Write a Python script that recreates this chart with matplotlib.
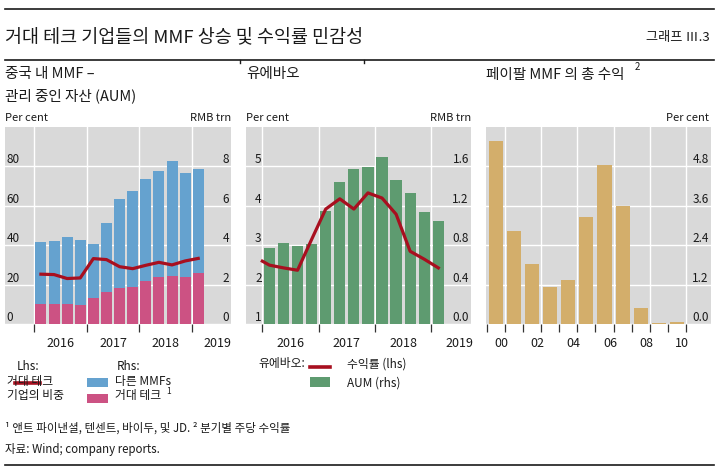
import matplotlib
matplotlib.use('Agg')
import matplotlib.pyplot as plt
from matplotlib.patches import Rectangle
from matplotlib.lines import Line2D
from matplotlib.ticker import FormatStrFormatter

plt.rcParams['font.family'] = ['Noto Sans CJK KR', 'DejaVu Sans']

# ---------------- data ----------------
quarters = ['2016Q1', '2016Q2', '2016Q3', '2016Q4',
            '2017Q1', '2017Q2', '2017Q3', '2017Q4',
            '2018Q1', '2018Q2', '2018Q3', '2018Q4', '2019Q1']
# China MMF AUM (RMB trn)
bigtech_aum = [1.01, 1.03, 1.01, 0.98, 1.34, 1.65, 1.83, 1.88, 2.17, 2.42, 2.44, 2.42, 2.60]
other_aum = [3.16, 3.17, 3.41, 3.31, 2.73, 3.48, 4.51, 4.86, 5.17, 5.33, 5.85, 5.23, 5.28]
# big tech share (per cent)
bigtech_share = [25.4, 25.2, 23.2, 23.5, 33.3, 32.8, 29.2, 28.2, 29.9, 31.4, 30.1, 32.1, 33.4]

# Yu'e Bao
yuebao_aum = [0.772, 0.823, 0.793, 0.817, 1.146, 1.440, 1.570, 1.590, 1.694, 1.462, 1.331, 1.137, 1.044]
yuebao_yield_t = [2016.0, 2016.125, 2016.375, 2016.625, 2016.875, 2017.125, 2017.375,
                  2017.625, 2017.875, 2018.125, 2018.375, 2018.625, 2018.875, 2019.125]
yuebao_yield = [2.60, 2.50, 2.43, 2.37, 3.15, 3.92, 4.18, 3.92, 4.33, 4.20, 3.79, 2.85, 2.65, 2.43]

# PayPal MMF total return
paypal_years = [2000, 2001, 2002, 2003, 2004, 2005, 2006, 2007, 2008, 2009, 2010]
paypal_ret = [5.56, 2.84, 1.83, 1.12, 1.34, 3.26, 4.85, 3.59, 0.49, 0.05, 0.07]
paypal_labels = ['00', '02', '04', '06', '08', '10']

year_ticks = [2016, 2017, 2018, 2019]
year_labels = ['2016', '2017', '2018', '2019']

# ---------------- style ----------------
W, H = 719, 475
BG = '#d9d9d9'
BLUE = '#65a2cf'
PINK = '#cc5283'
RED = '#a80f1f'
GREEN = '#5e9b70'
TAN = '#d3ae6b'
TXT = '#1a1a1a'

fig = plt.figure(figsize=(W / 100, H / 100), dpi=100)


def px_axes(x0, x1, y0, y1):
    return fig.add_axes([x0 / W, 1 - y1 / H, (x1 - x0) / W, (y1 - y0) / H])


def ftext(x, y, s, **kw):
    kw.setdefault('va', 'center')
    kw.setdefault('color', TXT)
    fig.text(x / W, 1 - y / H, s, **kw)


def hline(x0, x1, y, lw=1.2):
    fig.add_artist(Line2D([x0 / W, x1 / W], [1 - y / H, 1 - y / H], color=TXT, lw=lw))


def vline(x, y0, y1, lw=1.0):
    fig.add_artist(Line2D([x / W, x / W], [1 - y0 / H, 1 - y1 / H], color=TXT, lw=lw))


def rect(x0, y0, x1, y1, color):
    fig.add_artist(Rectangle((x0 / W, 1 - y1 / H), (x1 - x0) / W, (y1 - y0) / H,
                             transform=fig.transFigure, color=color, lw=0))


def qpos(q):
    return int(q[:4]) + (int(q[-1]) - 1) / 4 + 0.125


def base_style(ax):
    ax.set_facecolor(BG)
    for s in ax.spines.values():
        s.set_visible(False)
    ax.set_axisbelow(True)


def style_right(ax, pad=-1.5, fmt=None):
    ax.yaxis.tick_right()
    ax.tick_params(axis='y', which='both', length=0, pad=pad, labelsize=8.5, labelcolor=TXT)
    if fmt:
        ax.yaxis.set_major_formatter(FormatStrFormatter(fmt))
    for lab in ax.get_yticklabels():
        lab.set_horizontalalignment('right')
        lab.set_verticalalignment('bottom')


def style_left(ax, pad=-1.0):
    ax.yaxis.tick_left()
    ax.tick_params(axis='y', which='both', length=0, pad=pad, labelsize=8.5, labelcolor=TXT)
    for lab in ax.get_yticklabels():
        lab.set_horizontalalignment('left')
        lab.set_verticalalignment('bottom')


def year_xaxis(ax, ticks, label_pos, labels, xlim):
    ax.set_xlim(*xlim)
    ax.set_xticks(ticks)
    ax.set_xticklabels([''] * len(ticks))
    ax.set_xticks(label_pos, minor=True)
    ax.set_xticklabels(labels, minor=True)
    ax.tick_params(axis='x', which='major', length=5.8, width=0.9, color='#333333', direction='out')
    ax.tick_params(axis='x', which='minor', length=0, pad=9, labelsize=9, labelcolor=TXT)


qx = [qpos(q) for q in quarters]
mid_years = [y + 0.5 for y in year_ticks]

# ---------------- panel 1 ----------------
ax1 = px_axes(5, 231, 127, 324.3)
base_style(ax1)
ax1b = ax1.twinx()
for s in ax1b.spines.values():
    s.set_visible(False)
ax1.bar(qx, bigtech_aum, width=0.21, color=PINK, lw=0, zorder=2)
ax1.bar(qx, other_aum, width=0.21, bottom=bigtech_aum, color=BLUE, lw=0, zorder=2)
ax1b.plot(qx, bigtech_share, color=RED, lw=2.3, solid_joinstyle='round', zorder=3)
ax1.set_ylim(0, 10)
ax1.set_yticks([0, 2, 4, 6, 8])
ax1b.set_ylim(0, 100)
ax1b.set_yticks([0, 20, 40, 60, 80])
ax1.grid(True, which='major', color='white', lw=1.0)
year_xaxis(ax1, year_ticks, mid_years, year_labels, (2015.44, 2019.75))
style_right(ax1)
style_left(ax1b, pad=-1.0)

# ---------------- panel 2 ----------------
ax2 = px_axes(246, 471, 127, 324.3)
base_style(ax2)
ax2b = ax2.twinx()
for s in ax2b.spines.values():
    s.set_visible(False)
ax2.bar(qx, yuebao_aum, width=0.2, color=GREEN, lw=0, zorder=2)
ax2b.plot(yuebao_yield_t, yuebao_yield, color=RED, lw=2.3, solid_joinstyle='round', zorder=3)
ax2.set_ylim(0, 2.0)
ax2.set_yticks([0, 0.4, 0.8, 1.2, 1.6])
ax2b.set_ylim(1, 6)
ax2b.set_yticks([1, 2, 3, 4, 5])
ax2.grid(True, which='major', color='white', lw=1.0)
year_xaxis(ax2, year_ticks, mid_years, year_labels, (2015.71, 2019.705))
style_right(ax2, fmt='%.1f')
style_left(ax2b, pad=-6.5)

# ---------------- panel 3 ----------------
ax3 = px_axes(486, 711, 127, 324.3)
base_style(ax3)
ax3.bar([y + 0.5 for y in paypal_years], paypal_ret, width=0.78, color=TAN, lw=0, zorder=2)
ax3.set_ylim(0, 6)
ax3.set_yticks([0, 1.2, 2.4, 3.6, 4.8])
ax3.yaxis.grid(True, color='white', lw=1.0)
all_years = paypal_years + [paypal_years[-1] + 1]
for yr in all_years[1::2]:
    ax3.axvline(yr, color='white', lw=1.0, zorder=0.5)
year_xaxis(ax3, all_years, [y + 0.8 for y in paypal_years[::2]], paypal_labels, (1999.96, 2012.38))
style_right(ax3, fmt='%.1f')

# ---------------- titles & texts ----------------
hline(5, 714, 9)
hline(5, 714, 60)
vline(240, 60, 63)
vline(364, 60, 63)
ftext(5, 37, '거대 테크 기업들의 MMF 상승 및 수익률 민감성', fontsize=13.3)
ftext(710, 38, '그래프 Ⅲ.3', fontsize=9.5, ha='right')

ftext(5, 74, '중국 내 MMF –', fontsize=10.5)
ftext(5, 96, '관리 중인 자산 (AUM)', fontsize=10.5)
ftext(246, 74, '유에바오', fontsize=10.5)
ftext(486, 75, '페이팔 MMF 의 총 수익', fontsize=10.5)
ftext(635, 67, '2', fontsize=7)

ftext(5, 118, 'Per cent', fontsize=8)
ftext(231, 118, 'RMB trn', fontsize=8, ha='right')
ftext(246, 118, 'Per cent', fontsize=8)
ftext(471, 118, 'RMB trn', fontsize=8, ha='right')
ftext(709, 118, 'Per cent', fontsize=8, ha='right')

# legend panel 1
ftext(17, 367, 'Lhs:', fontsize=8.5)
ftext(7, 381, '거대 테크', fontsize=8.5)
ftext(7, 396, '기업의 비중', fontsize=8.5)
fig.add_artist(Line2D([15 / W, 40 / W], [1 - 383 / H] * 2, color=RED, lw=2.6))
ftext(117, 367, 'Rhs:', fontsize=8.5)
rect(87, 378, 108, 387, BLUE)
rect(87, 394, 108, 403, PINK)
ftext(115, 381, '다른 MMFs', fontsize=8.5)
ftext(115, 396, '거대 테크', fontsize=8.5)
ftext(166, 391, '1', fontsize=6)

# legend panel 2
ftext(258, 364, '유에바오:', fontsize=8.5)
fig.add_artist(Line2D([310 / W, 330 / W], [1 - 367 / H] * 2, color=RED, lw=2.6))
ftext(347, 364, '수익률 (lhs)', fontsize=8.5)
rect(310, 377, 330, 387, GREEN)
ftext(347, 383, 'AUM (rhs)', fontsize=8.5)

# footnotes
ftext(5, 428, '¹ 앤트 파이낸셜, 텐센트, 바이두, 및 JD. ² 분기별 주당 수익률', fontsize=8.3)
ftext(5, 450, '자료: Wind; company reports.', fontsize=8.3)
hline(5, 714, 465)

fig.savefig('out.png', dpi=100)
